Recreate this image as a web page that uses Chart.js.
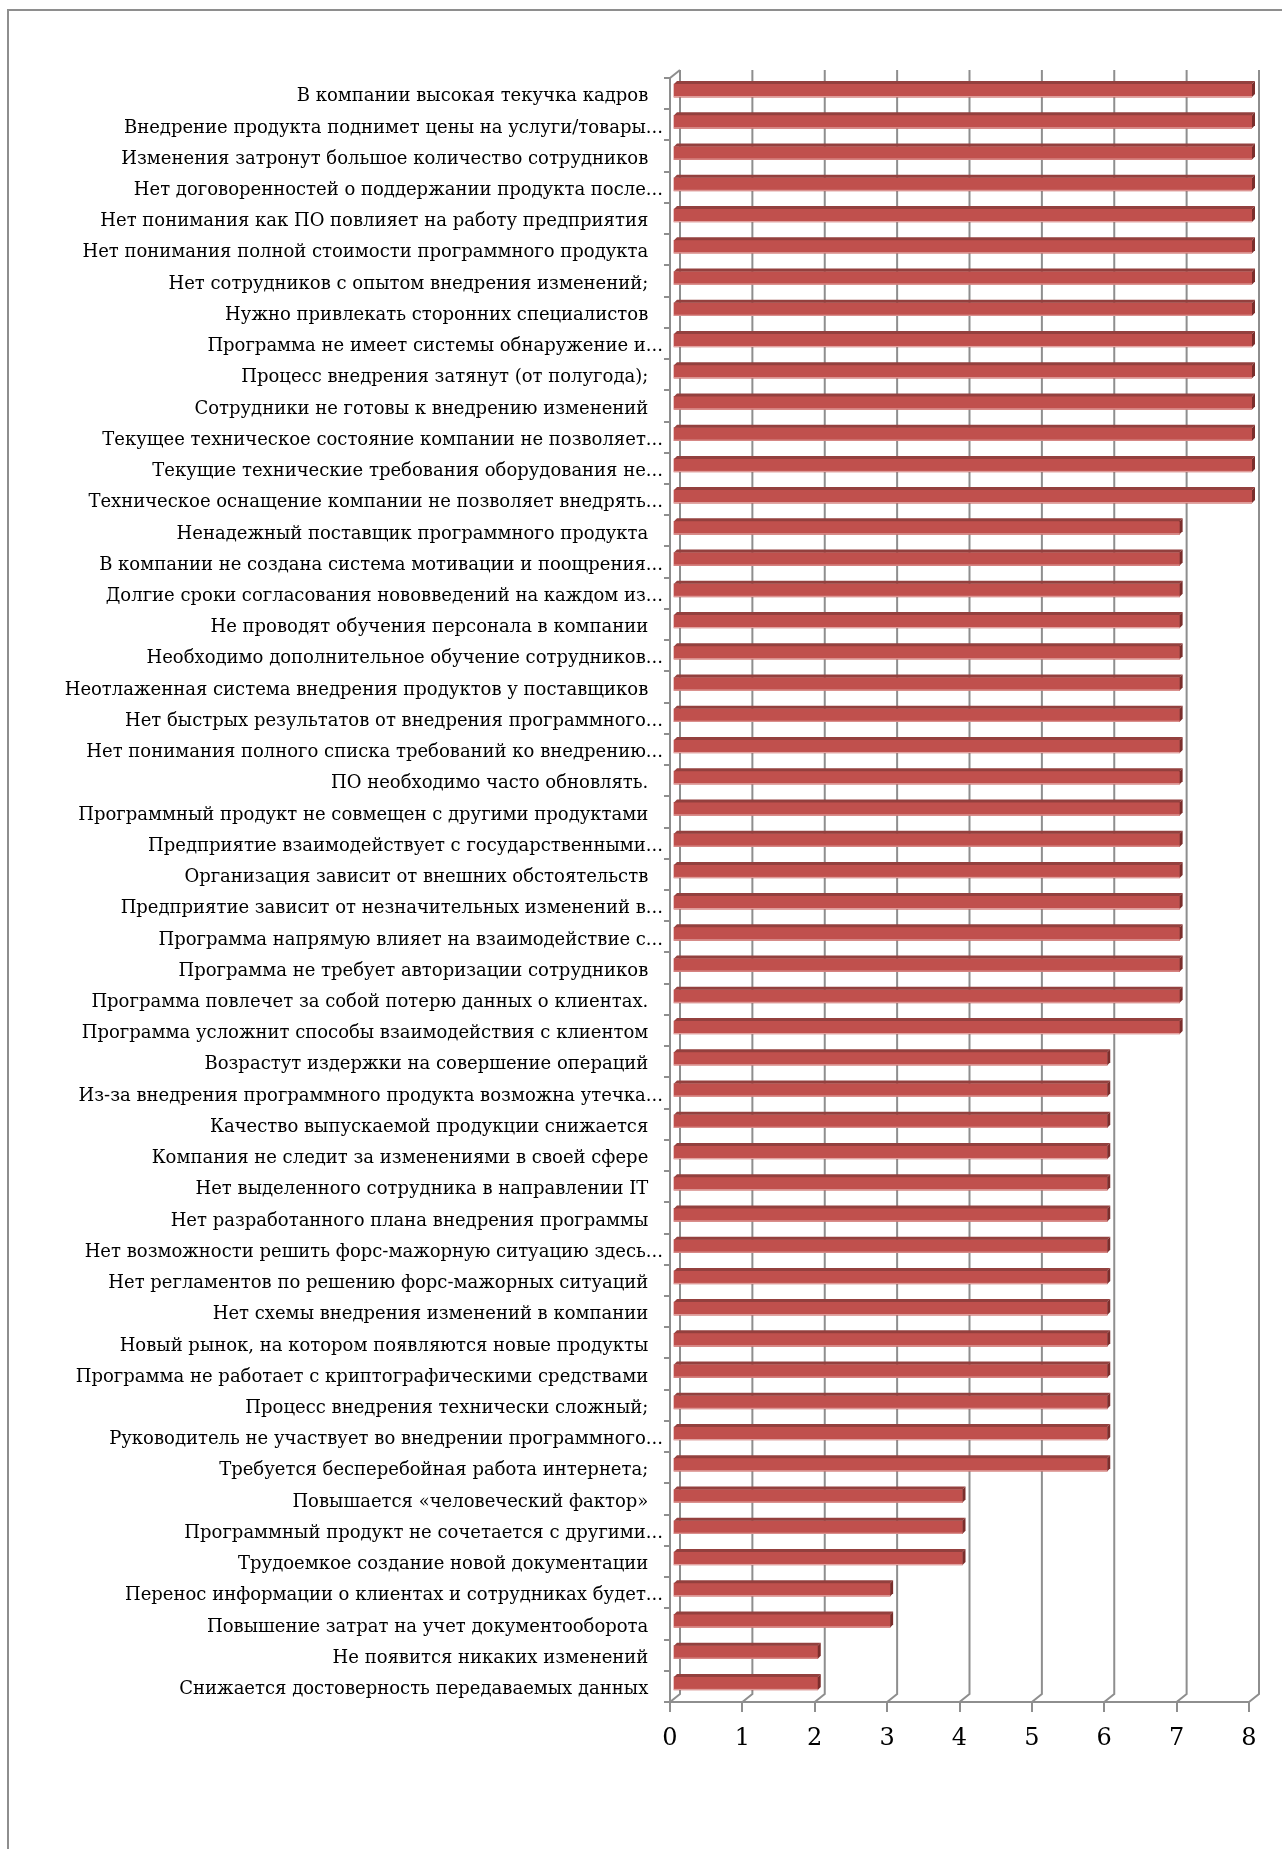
<!DOCTYPE html>
<html lang="ru">
<head>
<meta charset="utf-8">
<title>Факторы риска внедрения программного продукта</title>
<script src="https://cdn.jsdelivr.net/npm/chart.js@4.4.1/dist/chart.umd.min.js"></script>
<style>
  html, body { margin: 0; padding: 0; background: #fff; overflow: hidden; }
  .frame {
    position: absolute; left: 7px; top: 9px; width: 1400px; height: 1900px;
    border-left: 2px solid #8e8e8e; border-top: 2px solid #8e8e8e;
  }
  #riskChart { position: absolute; left: 0; top: 0; }
</style>
</head>
<body>
<div class="frame"></div>
<canvas id="riskChart" width="1282" height="1849"></canvas>
<script>
// Risk factors (long ones are cut with "..." as on the axis)
const factors = [
  'В компании высокая текучка кадров',
  'Внедрение продукта поднимет цены на услуги/товары...',
  'Изменения затронут большое количество сотрудников',
  'Нет договоренностей о поддержании продукта после...',
  'Нет понимания как ПО повлияет на работу предприятия',
  'Нет понимания полной стоимости программного продукта',
  'Нет сотрудников с опытом внедрения изменений;',
  'Нужно привлекать сторонних специалистов',
  'Программа не имеет системы обнаружение и...',
  'Процесс внедрения затянут (от полугода);',
  'Сотрудники не готовы к внедрению изменений',
  'Текущее техническое состояние компании не позволяет...',
  'Текущие технические требования оборудования не...',
  'Техническое оснащение компании не позволяет внедрять...',
  'Ненадежный поставщик программного продукта',
  'В компании не создана система мотивации и поощрения...',
  'Долгие сроки согласования нововведений на каждом из...',
  'Не проводят обучения персонала в компании',
  'Необходимо дополнительное обучение сотрудников...',
  'Неотлаженная система внедрения продуктов у поставщиков',
  'Нет быстрых результатов от внедрения программного...',
  'Нет понимания полного списка требований ко внедрению...',
  'ПО необходимо часто обновлять.',
  'Программный продукт не совмещен с другими продуктами',
  'Предприятие взаимодействует с государственными...',
  'Организация зависит от внешних обстоятельств',
  'Предприятие зависит от незначительных изменений в...',
  'Программа напрямую влияет на взаимодействие с...',
  'Программа не требует авторизации сотрудников',
  'Программа повлечет за собой потерю данных о клиентах.',
  'Программа усложнит способы взаимодействия с клиентом',
  'Возрастут издержки на совершение операций',
  'Из-за внедрения программного продукта возможна утечка...',
  'Качество выпускаемой продукции снижается',
  'Компания не следит за изменениями в своей сфере',
  'Нет выделенного сотрудника в направлении IT',
  'Нет разработанного плана внедрения программы',
  'Нет возможности решить форс-мажорную ситуацию здесь...',
  'Нет регламентов по решению форс-мажорных ситуаций',
  'Нет схемы внедрения изменений в компании',
  'Новый рынок, на котором появляются новые продукты',
  'Программа не работает с криптографическими средствами',
  'Процесс внедрения технически сложный;',
  'Руководитель не участвует во внедрении программного...',
  'Требуется бесперебойная работа интернета;',
  'Повышается «человеческий фактор»',
  'Программный продукт не сочетается с другими...',
  'Трудоемкое создание новой документации',
  'Перенос информации о клиентах и сотрудниках будет...',
  'Повышение затрат на учет документооборота',
  'Не появится никаких изменений',
  'Снижается достоверность передаваемых данных'
];

// Number of answers per factor
const counts = [
  8, 8, 8, 8, 8, 8, 8, 8, 8, 8, 8, 8, 8, 8,
  7, 7, 7, 7, 7, 7, 7, 7, 7, 7, 7, 7, 7, 7, 7, 7, 7,
  6, 6, 6, 6, 6, 6, 6, 6, 6, 6, 6, 6, 6, 6,
  4, 4, 4,
  3, 3,
  2, 2
];

// Value axis ticks
const valueTicks = [0, 1, 2, 3, 4, 5, 6, 7, 8];

const GRID = '#8e8e8e';
const WALL_DX = 10, WALL_DY = 8;   // depth of the back wall
const BAR_D = 3;                   // depth of each bar

// Fake 3D: back-wall grid lines and bar top/side faces
const pseudo3d = {
  id: 'pseudo3d',
  beforeDatasetsDraw(chart) {
    const { ctx, chartArea, scales: { x } } = chart;
    ctx.save();
    ctx.strokeStyle = GRID;
    ctx.lineWidth = 2;
    valueTicks.forEach(v => {
      const xf = x.getPixelForValue(v);
      ctx.beginPath();
      ctx.moveTo(xf + WALL_DX, chartArea.top - WALL_DY);
      ctx.lineTo(xf + WALL_DX, chartArea.bottom - WALL_DY);
      ctx.lineTo(xf, chartArea.bottom);
      ctx.stroke();
    });
    ctx.beginPath();
    ctx.moveTo(chartArea.left, chartArea.top);
    ctx.lineTo(chartArea.left + WALL_DX, chartArea.top - WALL_DY);
    ctx.stroke();
    ctx.restore();
  },
  beforeDatasetDraw(chart) {
    chart.ctx.save();
    chart.ctx.translate(BAR_D, -BAR_D);
  },
  afterDatasetDraw(chart, args) {
    const ctx = chart.ctx;
    args.meta.data.forEach(bar => {
      const { x, y, base, height } = bar.getProps(['x', 'y', 'base', 'height'], true);
      const top = y - height / 2, bottom = y + height / 2;
      // top face
      ctx.fillStyle = '#93403e';
      ctx.beginPath();
      ctx.moveTo(base, top);
      ctx.lineTo(x, top);
      ctx.lineTo(x + BAR_D, top - BAR_D);
      ctx.lineTo(base + BAR_D, top - BAR_D);
      ctx.closePath();
      ctx.fill();
      // right side face
      ctx.fillStyle = '#7b2e2c';
      ctx.beginPath();
      ctx.moveTo(x, top);
      ctx.lineTo(x + BAR_D, top - BAR_D);
      ctx.lineTo(x + BAR_D, bottom - BAR_D);
      ctx.lineTo(x, bottom);
      ctx.closePath();
      ctx.fill();
      // light lower edge
      ctx.fillStyle = '#e3a6a4';
      ctx.fillRect(base, bottom - 1, x - base, 1);
    });
    ctx.restore();
  }
};

const ctx = document.getElementById('riskChart').getContext('2d');

const riskChart = new Chart(ctx, {
  type: 'bar',
  data: {
    labels: factors,
    datasets: [{
      data: counts,
      backgroundColor: '#c0504d',
      borderWidth: 0,
      barThickness: 13
    }]
  },
  plugins: [pseudo3d],
  options: {
    indexAxis: 'y',
    responsive: false,
    devicePixelRatio: 1,
    animation: false,
    layout: { padding: { left: 0, top: 78, right: 33, bottom: 0 } },
    plugins: {
      legend: { display: false },
      tooltip: { enabled: false }
    },
    scales: {
      x: {
        type: 'linear',
        min: 0,
        max: 8,
        ticks: {
          stepSize: 1,
          padding: 12,
          color: '#000',
          font: { family: 'DejaVu Serif', size: 24 }
        },
        grid: { drawOnChartArea: false, tickLength: 10, color: GRID, lineWidth: 2 },
        border: { color: GRID, width: 2 },
        afterFit(scale) { scale.height = 147; }
      },
      y: {
        ticks: {
          autoSkip: false,
          padding: 1,
          labelOffset: 3,
          color: '#000',
          font: { family: 'DejaVu Serif', size: 18 },
          callback(value) {
            const label = this.getLabelForValue(value);
            return label.endsWith('...') ? label : label + '\u2002 ';
          }
        },
        grid: { drawOnChartArea: false, offset: true, tickLength: 6, color: GRID, lineWidth: 2 },
        border: { color: GRID, width: 2 },
        afterFit(scale) { scale.width = 670; }
      }
    }
  }
});
</script>
</body>
</html>
